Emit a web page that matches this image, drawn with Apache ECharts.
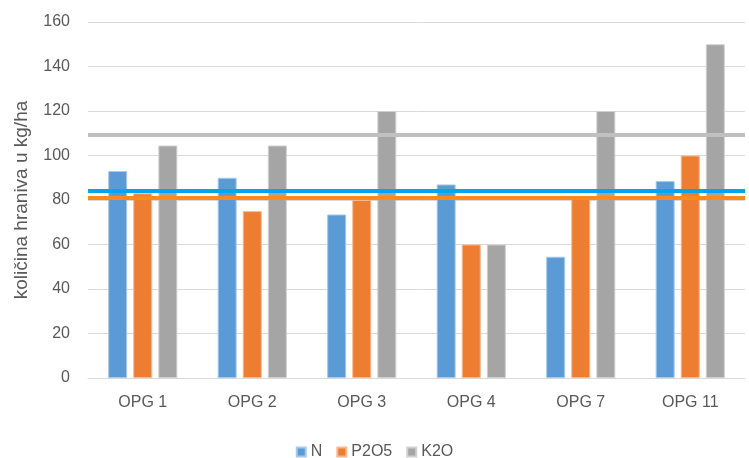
<!DOCTYPE html>
<html>
<head>
<meta charset="utf-8">
<script src="https://cdn.jsdelivr.net/npm/echarts@6/dist/echarts.min.js"></script>
<style>
  html, body { margin: 0; padding: 0; background: #fff; }
  #chart { width: 749px; height: 458px; }
</style>
</head>
<body>
<div id="chart"></div>
<script>
const categories = ['OPG 1', 'OPG 2', 'OPG 3', 'OPG 4', 'OPG 7', 'OPG 11'];
const nValues = [93, 90, 73.5, 87, 54.5, 88.5];
const p2o5Values = [83, 75, 80, 60, 81, 100];
const k2oValues = [104.5, 104.5, 120, 60, 120, 150];
// reference levels (horizontal lines)
const nLevel = 84;
const p2o5Level = 81;
const k2oLevel = 109.5;
const yTicks = { min: 0, max: 160, interval: 20 };

const textColor = '#595959';
const font = 'Liberation Sans, Arial, sans-serif';

const chart = echarts.init(document.getElementById('chart'), null, { renderer: 'canvas' });

chart.setOption({
    animation: false,
    textStyle: { fontFamily: font },
    grid: { left: 88, right: 4, top: 22, bottom: 80 },
    legend: {
        top: 439,
        left: 'center',
        icon: 'rect',
        itemWidth: 9,
        itemHeight: 9,
        itemGap: 14,
        textStyle: { color: textColor, fontSize: 16, fontFamily: font },
        data: ['N', 'P2O5', 'K2O'],
    },
    xAxis: {
        type: 'category',
        data: categories,
        axisLine: { lineStyle: { color: '#d9d9d9' } },
        axisTick: { show: false },
        axisLabel: { color: textColor, fontSize: 16, margin: 17 },
    },
    yAxis: {
        type: 'value',
        min: yTicks.min,
        max: yTicks.max,
        interval: yTicks.interval,
        name: 'količina hraniva u kg/ha',
        nameLocation: 'middle',
        nameGap: 57,
        nameTextStyle: { color: textColor, fontSize: 19 },
        axisLine: { show: false },
        axisTick: { show: false },
        axisLabel: { color: textColor, fontSize: 16, margin: 18 },
        splitLine: { lineStyle: { color: '#d9d9d9' } },
    },
    series: [
        {
            name: 'N',
            type: 'bar',
            data: nValues,
            barWidth: 19,
            barGap: '32%',
            itemStyle: { color: '#5b9bd5', borderColor: '#a9c9ea', borderWidth: 1 },
        },
        {
            name: 'P2O5',
            type: 'bar',
            data: p2o5Values,
            barWidth: 19,
            itemStyle: { color: '#ed7d31', borderColor: '#f6b88e', borderWidth: 1 },
        },
        {
            name: 'K2O',
            type: 'bar',
            data: k2oValues,
            barWidth: 19,
            itemStyle: { color: '#a5a5a5', borderColor: '#d0d0d0', borderWidth: 1 },
        },
        {
            name: 'levels',
            type: 'line',
            data: [],
            z: 5,
            markLine: {
                silent: true,
                symbol: ['none', 'none'],
                label: { show: false },
                data: [
                    { yAxis: k2oLevel, lineStyle: { color: '#c0c0c0', width: 4, type: 'solid' } },
                    { yAxis: nLevel, lineStyle: { color: '#00a6e8', width: 4, type: 'solid' } },
                    { yAxis: p2o5Level, lineStyle: { color: '#ff8a1c', width: 4, type: 'solid' } },
                ],
            },
        },
    ],
});
</script>
</body>
</html>
